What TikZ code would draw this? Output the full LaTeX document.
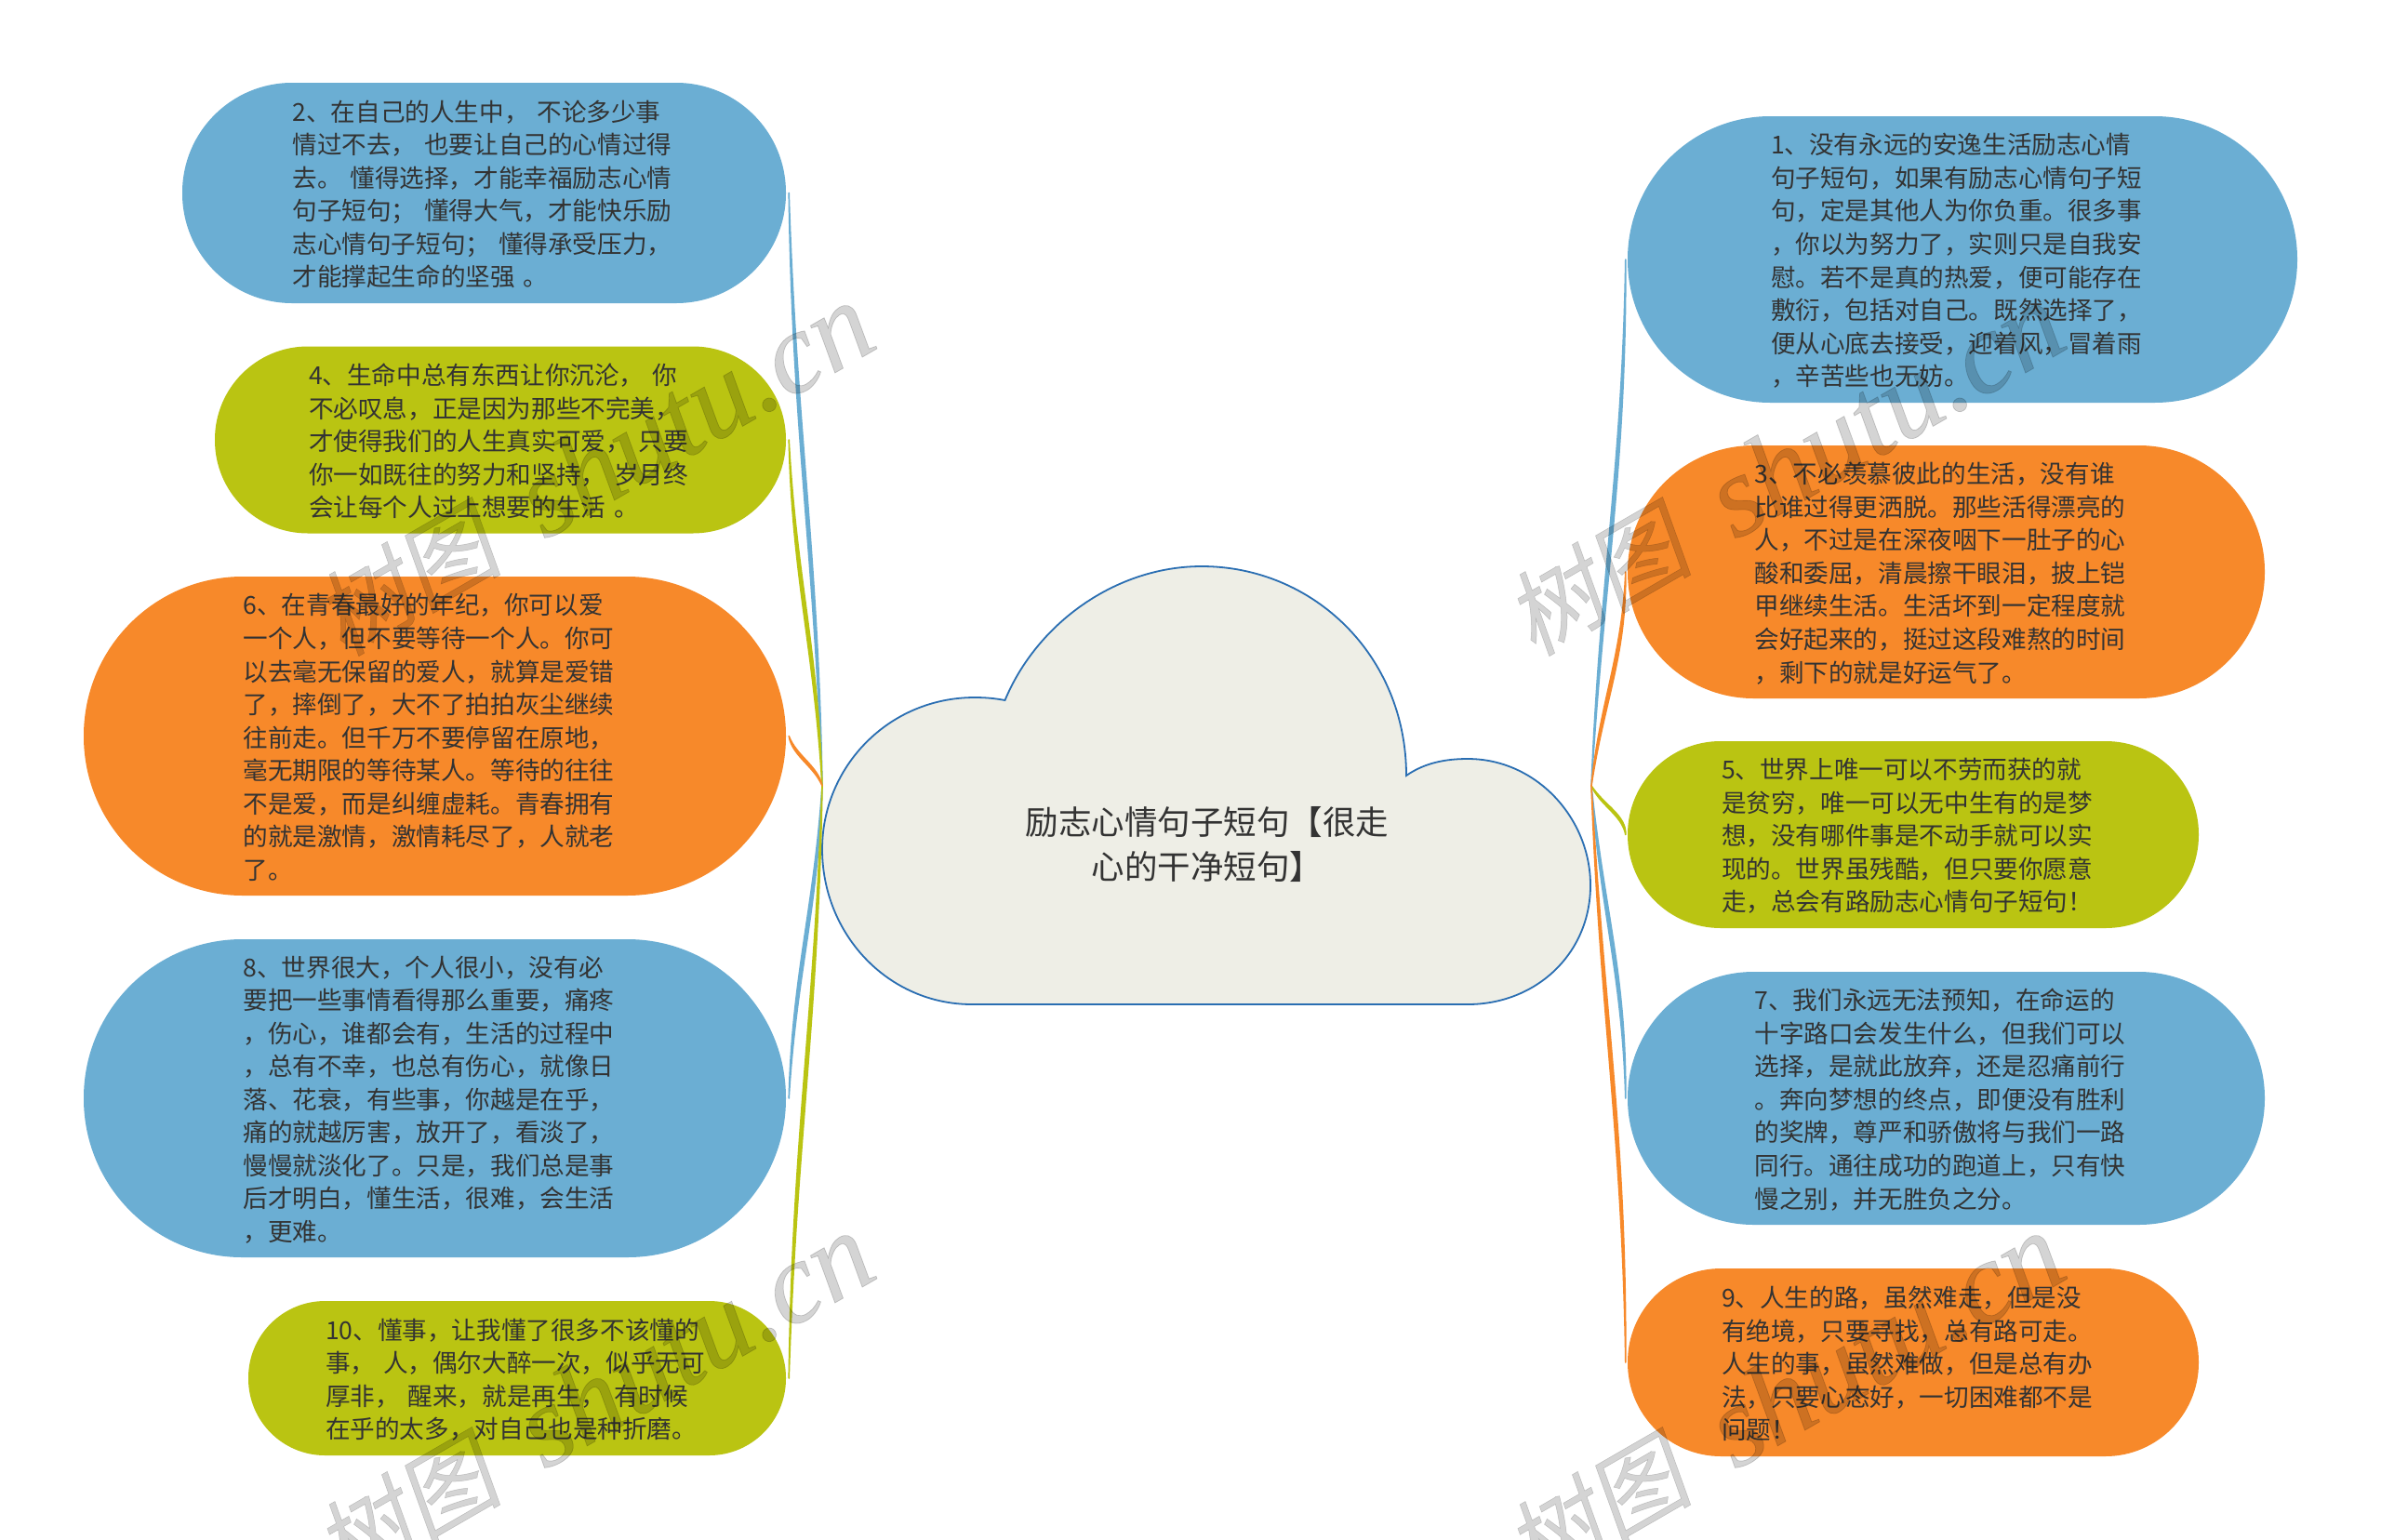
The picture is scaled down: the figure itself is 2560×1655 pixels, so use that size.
\documentclass[tikz,border=0pt]{standalone}
\usepackage{fontspec}
\setmainfont{Noto Sans CJK SC}
\newfontfamily\wmcjk[FakeSlant=0.18,FakeBold=0.5]{Noto Sans CJK SC}
\newfontfamily\wmlat{Liberation Serif}[ItalicFeatures={FakeBold=0.6}]
\usetikzlibrary{calc}
\definecolor{cblue}{RGB}{107,174,211}
\definecolor{cgreen}{RGB}{186,196,18}
\definecolor{corange}{RGB}{247,137,42}
\definecolor{cfill}{RGB}{238,238,230}
\definecolor{cline}{RGB}{42,110,178}
\definecolor{ctext}{RGB}{51,51,51}
\tikzset{
  pill/.style n args={3}{draw=none,fill=#1,text=ctext,minimum width=#2,minimum height=#3,
    text width=412pt,align=left,inner sep=0pt,font=\fontsize{26.6}{35.55}\selectfont},
  rootlabel/.style={text=ctext,align=center,inner sep=0pt,font=\fontsize{35.5}{48.3}\selectfont},
  watermark/.style={text=black,opacity=0.17,rotate=30,anchor=base east,inner sep=0pt,
    font=\fontsize{100}{120}\selectfont},
  link/.style={draw=#1,fill=#1,line width=1.6pt,line join=round}
}
\newcommand{\tdown}{\vspace*{-3pt}}
\newcommand{\conn}[3]{%
  \draw[link=#3] let \p1=(#1),\p2=(#2),\n1={\x2-\x1},\n2={\y2-\y1} in
    (\p1) .. controls ({\x1+0.25*\n1},{\y1+0.4*\n2}) and ({\x2-0.1*\n1},{\y1+0.6*\n2}) .. (\p2)
    .. controls ({\x2-0.1*\n1+4.5pt},{\y1+0.6*\n2}) and ({\x1+0.25*\n1+4.5pt},{\y1+0.4*\n2}) .. (\p1) -- cycle;}
\newcommand{\wmtext}{{\wmcjk 树图}\hspace{50pt}{\fontsize{124.5}{130}\selectfont\wmlat\itshape shutu.cn}}
\begin{document}
\begin{tikzpicture}[x=1pt,y=-1pt]
\useasboundingbox (0,0) rectangle (2560,1655);
\fill[white] (0,0) rectangle (2560,1655);

% left pills
\node[pill={cblue}{649pt}{237pt},rounded corners=118pt] (n2) at (520.5,207.5) {2、在自己的人生中， 不论多少事\\情过不去， 也要让自己的心情过得\\去。 懂得选择，才能幸福励志心情\\句子短句； 懂得大气，才能快乐励\\志心情句子短句； 懂得承受压力，\\才能撑起生命的坚强 。\tdown};
\node[pill={cgreen}{614pt}{201pt},rounded corners=100pt] (n4) at (538,473) {4、生命中总有东西让你沉沦， 你\\不必叹息，正是因为那些不完美，\\才使得我们的人生真实可爱， 只要\\你一如既往的努力和坚持， 岁月终\\会让每个人过上想要的生活 。\tdown};
\node[pill={corange}{755pt}{343pt},rounded corners=171pt] (n6) at (467.5,791.5) {6、在青春最好的年纪，你可以爱\\一个人，但不要等待一个人。你可\\以去毫无保留的爱人，就算是爱错\\了，摔倒了，大不了拍拍灰尘继续\\往前走。但千万不要停留在原地，\\毫无期限的等待某人。等待的往往\\不是爱，而是纠缠虚耗。青春拥有\\的就是激情，激情耗尽了，人就老\\了。\tdown};
\node[pill={cblue}{755pt}{342pt},rounded corners=170.5pt] (n8) at (467.5,1181) {8、世界很大，个人很小，没有必\\要把一些事情看得那么重要，痛疼\\，伤心，谁都会有，生活的过程中\\，总有不幸，也总有伤心，就像日\\落、花衰，有些事，你越是在乎，\\痛的就越厉害，放开了，看淡了，\\慢慢就淡化了。只是，我们总是事\\后才明白，懂生活，很难，会生活\\，更难。\tdown};
\node[pill={cgreen}{578pt}{166pt},rounded corners=82.5pt] (n10) at (556,1482) {10、懂事，让我懂了很多不该懂的\\事， 人，偶尔大醉一次，似乎无可\\厚非， 醒来，就是再生， 有时候\\在乎的太多，对自己也是种折磨。\tdown};

% right pills
\node[pill={cblue}{720pt}{308pt},rounded corners=153.5pt] (n1) at (2110,279) {1、没有永远的安逸生活励志心情\\句子短句，如果有励志心情句子短\\句，定是其他人为你负重。很多事\\，你以为努力了，实则只是自我安\\慰。若不是真的热爱，便可能存在\\敷衍，包括对自己。既然选择了，\\便从心底去接受，迎着风，冒着雨\\，辛苦些也无妨。\tdown};
\node[pill={corange}{685pt}{272pt},rounded corners=135.5pt] (n3) at (2092.5,615) {3、不必羡慕彼此的生活，没有谁\\比谁过得更洒脱。那些活得漂亮的\\人，不过是在深夜咽下一肚子的心\\酸和委屈，清晨擦干眼泪，披上铠\\甲继续生活。生活坏到一定程度就\\会好起来的，挺过这段难熬的时间\\，剩下的就是好运气了。\tdown};
\node[pill={cgreen}{614pt}{201pt},rounded corners=100pt] (n5) at (2057,897.5) {5、世界上唯一可以不劳而获的就\\是贫穷，唯一可以无中生有的是梦\\想，没有哪件事是不动手就可以实\\现的。世界虽残酷，但只要你愿意\\走，总会有路励志心情句子短句！\tdown};
\node[pill={cblue}{685pt}{272pt},rounded corners=135.5pt] (n7) at (2092.5,1181) {7、我们永远无法预知，在命运的\\十字路口会发生什么，但我们可以\\选择，是就此放弃，还是忍痛前行\\。奔向梦想的终点，即便没有胜利\\的奖牌，尊严和骄傲将与我们一路\\同行。通往成功的跑道上，只有快\\慢之别，并无胜负之分。\tdown};
\node[pill={corange}{614pt}{202pt},rounded corners=100.5pt] (n9) at (2057,1465) {9、人生的路，虽然难走，但是没\\有绝境，只要寻找，总有路可走。\\人生的事，虽然难做，但是总有办\\法，只要心态好，一切困难都不是\\问题！\tdown};

% hubs and connector tips
\coordinate (hubL) at (884,845);
\coordinate (hubR) at (1711,845);
\foreach \n in {2,4,6,8,10}{\coordinate (t\n) at ([xshift=3pt]n\n.east);}
\foreach \n in {1,3,5,7,9}{\coordinate (t\n) at ([xshift=-2pt]n\n.west);}

% cloud
\draw[fill=cfill,draw=cline,line width=1.8pt,line join=miter]
  (1045,1080) -- (1578,1080)
  .. controls (1652,1080) and (1710,1025) .. (1710,952)
  .. controls (1710,880) and (1652,816) .. (1578,816)
  .. controls (1555,816) and (1532,820) .. (1512,834)
  .. controls (1512,705) and (1412,609) .. (1292,609)
  .. controls (1200,609) and (1115,670) .. (1080.5,753)
  .. controls (1070,751) and (1060,750) .. (1048,750)
  .. controls (955,750) and (884,825) .. (884,913)
  .. controls (884,1005) and (955,1080) .. (1045,1080) -- cycle;
\node[rootlabel] (root) at (1298,908) {励志心情句子短句【很走\\心的干净短句】};

% connectors
\conn{hubL}{t2}{cblue}
\conn{hubL}{t8}{cblue}
\conn{hubL}{t4}{cgreen}
\conn{hubL}{t10}{cgreen}
\conn{hubL}{t6}{corange}
\conn{hubR}{t1}{cblue}
\conn{hubR}{t7}{cblue}
\conn{hubR}{t5}{cgreen}
\conn{hubR}{t3}{corange}
\conn{hubR}{t9}{corange}

% watermarks
\begin{scope}
\clip (0,0) rectangle (2560,1655);
\node[watermark] (wm1) at (948,372) {\wmtext};
\node[watermark] (wm2) at (2228,372) {\wmtext};
\node[watermark] (wm3) at (948,1372) {\wmtext};
\node[watermark] (wm4) at (2228,1372) {\wmtext};
\end{scope}
\end{tikzpicture}
\end{document}
